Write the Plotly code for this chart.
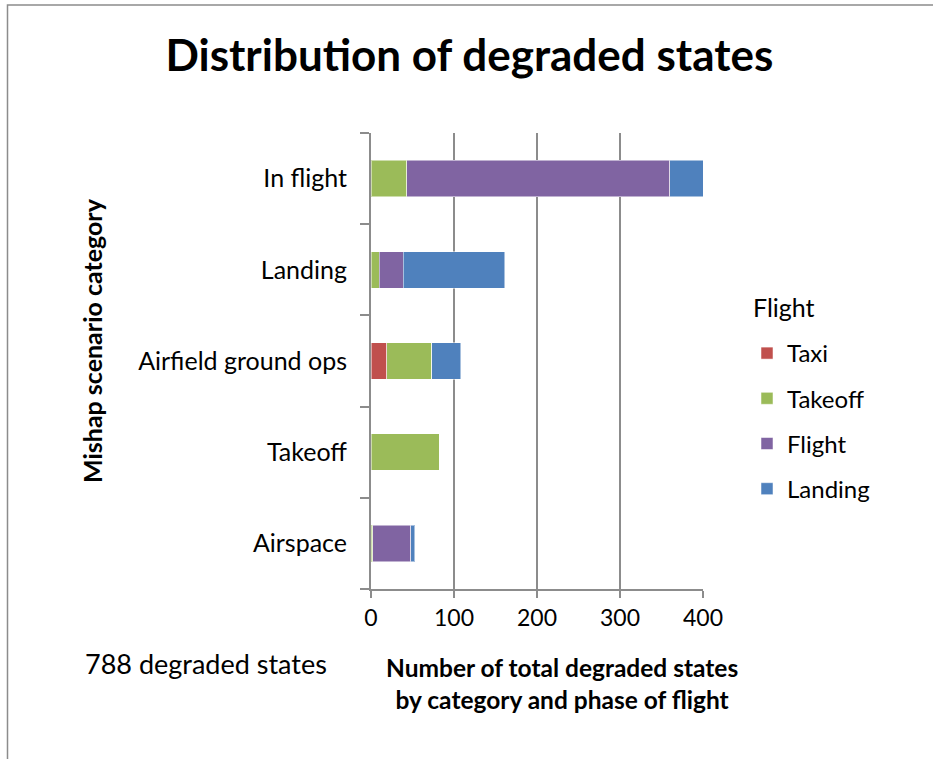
import plotly.graph_objects as go

categories = ["Airspace", "Takeoff", "Airfield ground ops", "Landing", "In flight"]
taxi = [0, 0, 19, 0, 0]
takeoff = [2, 82, 54, 10, 43]
flight = [46, 0, 0, 29, 317]
landing = [5, 0, 35, 122, 40]
series_names = ["Taxi", "Takeoff", "Flight", "Landing"]
series_values = [taxi, takeoff, flight, landing]
colors = ["#C0504D", "#9BBB59", "#8064A2", "#4F81BD"]
x_ticks = [0, 100, 200, 300, 400]

FONT = "Lato"
PW = 332.0
PH = 456.0


def px(x):
    return (x - 371) / PW


def py(y):
    return (589 - y) / PH


fig = go.Figure()
for name, vals, col in zip(series_names, series_values, colors):
    fig.add_trace(go.Bar(
        y=categories, x=vals, name=name, orientation="h",
        marker=dict(color=col, line=dict(color="rgba(255,255,255,0.5)", width=1)),
        legendgroup=name,
    ))

grid = "#8c8c8c"
border_path = "M {a},{b} L {c},{d} L {e},{f}".format(
    a=px(7.5), b=py(800), c=px(7.5), d=py(5), e=px(960), f=py(5))

fig.update_layout(
    barmode="stack",
    bargap=0.6,
    width=933, height=759,
    margin=dict(l=371, r=230, t=133, b=170),
    paper_bgcolor="white", plot_bgcolor="white",
    font=dict(family=FONT, size=24, color="black"),
    title=dict(text="<b>Distribution of degraded states</b>", xref="container", x=0.503,
               xanchor="center", yref="container", y=0.927, yanchor="middle",
               font=dict(family=FONT, size=44, color="black")),
    showlegend=True,
    legend=dict(x=px(747), xanchor="left", xref="paper", y=py(331), yanchor="top",
                traceorder="grouped", tracegroupgap=11, font=dict(size=24), itemwidth=30,
                bgcolor="rgba(0,0,0,0)"),
    xaxis=dict(range=[0, 400], tickvals=x_ticks, showgrid=True, gridcolor=grid, gridwidth=2,
               showline=True, linecolor=grid, linewidth=2, ticks="outside", ticklen=7,
               tickcolor=grid, tickwidth=2, zeroline=False, fixedrange=True,
               tickfont=dict(size=23)),
    yaxis=dict(categoryorder="array", categoryarray=categories, showline=True, linecolor=grid,
               linewidth=2, ticks="outside", tickson="boundaries", ticklen=9, tickcolor=grid,
               tickwidth=2, showgrid=False, ticklabelstandoff=17, tickfont=dict(size=25)),
    shapes=[dict(type="path", xref="paper", yref="paper", path=border_path,
                 line=dict(color="#8c8c8c", width=1.5), layer="below")],
    annotations=[
        dict(text="Flight", xref="paper", yref="paper", x=px(751), y=py(307),
             xanchor="left", yanchor="middle", showarrow=False, font=dict(size=25)),
        dict(text="<b>Mishap scenario category</b>", textangle=-90, xref="paper", yref="paper",
             x=px(92), y=py(341), xanchor="center", yanchor="middle",
             showarrow=False, font=dict(size=25)),
        dict(text="<b>Number of total degraded states<br>by category and phase of flight</b>",
             xref="paper", yref="paper", x=px(562), y=py(683),
             xanchor="center", yanchor="middle", showarrow=False, font=dict(size=24.5),
             align="center"),
        dict(text="788 degraded states", xref="paper", yref="paper", x=px(206),
             y=py(663), xanchor="center", yanchor="middle", showarrow=False,
             font=dict(size=27)),
    ],
)

fig.write_html("out.html")
